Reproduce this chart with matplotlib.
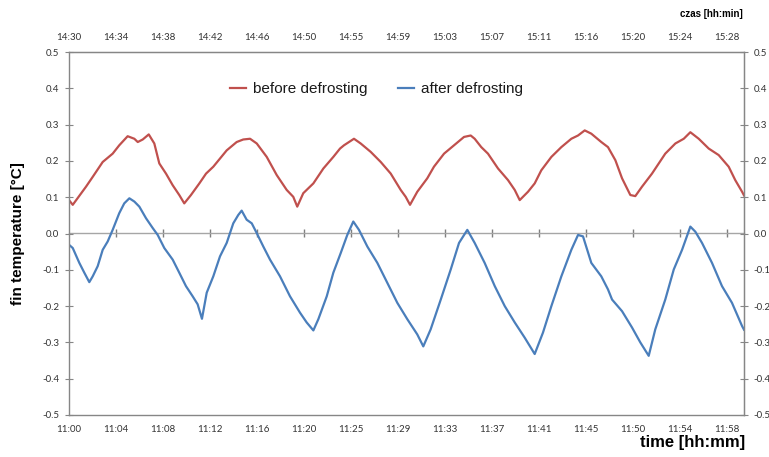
import matplotlib
matplotlib.use("Agg")
import matplotlib.pyplot as plt

# czas w minutach od 11:00 / temperatura zebra [°C]
before_t = [0.0, 0.33, 1.50, 2.09, 2.97, 3.85, 4.43, 5.17, 5.76, 6.06, 6.50, 7.03, 7.52, 7.96,
            8.55, 9.14, 9.72, 10.16, 10.75, 11.49, 12.08, 12.72, 13.90, 14.78, 15.36, 15.96,
            16.55, 17.43, 18.31, 19.19, 19.77, 20.12, 20.65, 21.54, 22.42, 23.30, 23.89, 24.24,
            25.12, 25.71, 26.59, 27.48, 28.36, 29.24, 29.68, 30.06, 30.70, 31.58, 32.17, 33.06,
            33.94, 34.82, 35.41, 35.76, 36.34, 36.93, 37.82, 38.70, 39.29, 39.73, 40.46, 41.05,
            41.63, 42.52, 43.40, 44.28, 44.87, 45.46, 46.04, 46.92, 47.51, 48.16, 48.75, 49.48,
            49.92, 50.51, 51.39, 52.56, 53.45, 54.19, 54.77, 55.51, 56.39, 57.27, 58.15, 58.73,
            59.33, 59.50]
before_T = [0.092, 0.079, 0.129, 0.156, 0.197, 0.220, 0.243, 0.268, 0.261, 0.252, 0.259, 0.273,
            0.248, 0.193, 0.165, 0.133, 0.106, 0.083, 0.106, 0.138, 0.165, 0.184, 0.229, 0.252,
            0.259, 0.261, 0.248, 0.211, 0.161, 0.120, 0.101, 0.074, 0.111, 0.138, 0.179, 0.211,
            0.234, 0.243, 0.261, 0.248, 0.225, 0.197, 0.165, 0.120, 0.101, 0.079, 0.115, 0.152,
            0.184, 0.220, 0.243, 0.266, 0.270, 0.261, 0.238, 0.220, 0.179, 0.147, 0.120, 0.092,
            0.115, 0.138, 0.174, 0.211, 0.238, 0.261, 0.270, 0.284, 0.275, 0.252, 0.238, 0.202,
            0.152, 0.106, 0.103, 0.129, 0.165, 0.220, 0.248, 0.261, 0.279, 0.261, 0.234, 0.216,
            0.184, 0.147, 0.115, 0.105]

after_t = [0.0, 0.33, 0.91, 1.35, 1.79, 2.09, 2.53, 2.97, 3.41, 3.85, 4.43, 4.87, 5.32, 5.76,
           6.20, 6.79, 7.38, 7.82, 8.40, 9.14, 9.72, 10.31, 10.90, 11.34, 11.72, 12.14, 12.72,
           13.31, 13.90, 14.48, 14.92, 15.22, 15.66, 16.11, 16.55, 17.13, 17.72, 18.60, 19.48,
           20.36, 20.95, 21.54, 21.98, 22.72, 23.30, 23.95, 24.53, 25.06, 25.56, 26.30, 27.18,
           28.06, 28.94, 29.82, 30.70, 31.23, 31.88, 32.77, 33.65, 34.38, 35.11, 35.76, 36.64,
           37.53, 38.41, 39.29, 40.17, 41.05, 41.78, 42.52, 43.40, 44.28, 44.87, 45.31, 46.04,
           46.92, 47.51, 47.87, 48.75, 49.63, 50.36, 51.10, 51.68, 52.56, 53.31, 54.04, 54.77,
           55.21, 55.80, 56.68, 57.56, 58.44, 59.33, 59.50]
after_T = [-0.031, -0.040, -0.081, -0.108, -0.134, -0.118, -0.090, -0.045, -0.022, 0.010, 0.056,
           0.083, 0.097, 0.088, 0.074, 0.042, 0.015, -0.004, -0.040, -0.072, -0.108, -0.145,
           -0.173, -0.195, -0.235, -0.163, -0.118, -0.063, -0.026, 0.028, 0.051, 0.063, 0.038,
           0.028, 0.001, -0.036, -0.072, -0.118, -0.173, -0.218, -0.245, -0.267, -0.236, -0.173,
           -0.108, -0.054, -0.004, 0.033, 0.010, -0.036, -0.081, -0.136, -0.191, -0.236, -0.278,
           -0.311, -0.264, -0.182, -0.099, -0.026, 0.010, -0.026, -0.081, -0.145, -0.200, -0.245,
           -0.287, -0.332, -0.273, -0.200, -0.118, -0.045, -0.004, -0.008, -0.081, -0.118, -0.154,
           -0.182, -0.214, -0.259, -0.300, -0.337, -0.264, -0.182, -0.099, -0.045, 0.019, 0.005,
           -0.026, -0.081, -0.145, -0.191, -0.255, -0.265]

bottom_labels = ['11:00', '11:04', '11:08', '11:12', '11:16', '11:20', '11:25', '11:29',
                 '11:33', '11:37', '11:41', '11:45', '11:50', '11:54', '11:58']
top_labels = ['14:30', '14:34', '14:38', '14:42', '14:46', '14:50', '14:55', '14:59',
              '15:03', '15:07', '15:11', '15:16', '15:20', '15:24', '15:28']
y_ticks = [-0.5, -0.4, -0.3, -0.2, -0.1, 0.0, 0.1, 0.2, 0.3, 0.4, 0.5]

tick_pos = [k * 58 / 14 for k in range(len(bottom_labels))]
y_lbl = ['%.1f' % v for v in y_ticks]

spine_c = '#868686'
txt_c = '#333333'
tick_font = 'Lato'

fig = plt.figure(figsize=(7.69, 4.57), dpi=100)
ax = fig.add_axes([69 / 769, 1 - 415 / 457, 675 / 769, 363 / 457])

ax.plot(before_t, before_T, color='#C0504D', lw=1.6, label='before defrosting')
ax.plot(after_t, after_T, color='#4A7EBB', lw=1.6, label='after defrosting')

ax.set_xlim(0, 59.5)
ax.set_ylim(-0.5, 0.5)
for s in ax.spines.values():
    s.set_color(spine_c)
    s.set_linewidth(1.0)

# dolna oś - etykiety bez kresek
ax.set_xticks(tick_pos)
ax.set_xticklabels(bottom_labels, fontsize=7, color=txt_c, family=tick_font)
ax.tick_params(axis='x', length=0, pad=7)

# górna oś
top = ax.secondary_xaxis('top')
top.set_xticks(tick_pos)
top.set_xticklabels(top_labels, fontsize=7, color=txt_c, family=tick_font)
top.tick_params(length=0, pad=7)
for s in top.spines.values():
    s.set_color(spine_c)

# linia zera z kreskami
zero = ax.secondary_xaxis(0.5)
zero.set_xticks(tick_pos[1:])
zero.set_xticklabels([])
zero.tick_params(length=6, direction='inout', color='#7f7f7f', width=1.0)
for s in zero.spines.values():
    s.set_color('#A6A6A6')
    s.set_linewidth(1.0)

# oś Y lewa i prawa
ax.set_yticks(y_ticks)
ax.set_yticklabels(y_lbl, fontsize=7, color=txt_c, family=tick_font)
ax.tick_params(axis='y', length=6, direction='inout', color=spine_c, pad=4)
right = ax.secondary_yaxis('right')
right.set_yticks(y_ticks)
right.set_yticklabels(y_lbl, fontsize=7, color=txt_c, family=tick_font)
right.tick_params(length=6, direction='inout', color=spine_c, pad=4)
for s in right.spines.values():
    s.set_color(spine_c)

leg = ax.legend(ncol=2, loc='center', bbox_to_anchor=(0.455, 0.898), frameon=False,
                handlelength=1.1, handletextpad=0.4, columnspacing=2.0,
                prop={'family': 'Liberation Sans', 'size': 11})
for t in leg.get_texts():
    t.set_color('#1a1a1a')

fig.text(18 / 769, 0.49, 'fin temperature [°C]', rotation=90, ha='center', va='center',
         fontsize=11, fontweight='bold', family='Liberation Sans')
fig.text(745 / 769, 1 - 443 / 457, 'time [hh:mm]', ha='right', va='center',
         fontsize=12, fontweight='bold', family='Liberation Sans')
fig.text(743 / 769, 1 - 14 / 457, 'czas [hh:min]', ha='right', va='center',
         fontsize=7, fontweight='bold', family='Liberation Sans')

fig.savefig('out.png', dpi=100)
